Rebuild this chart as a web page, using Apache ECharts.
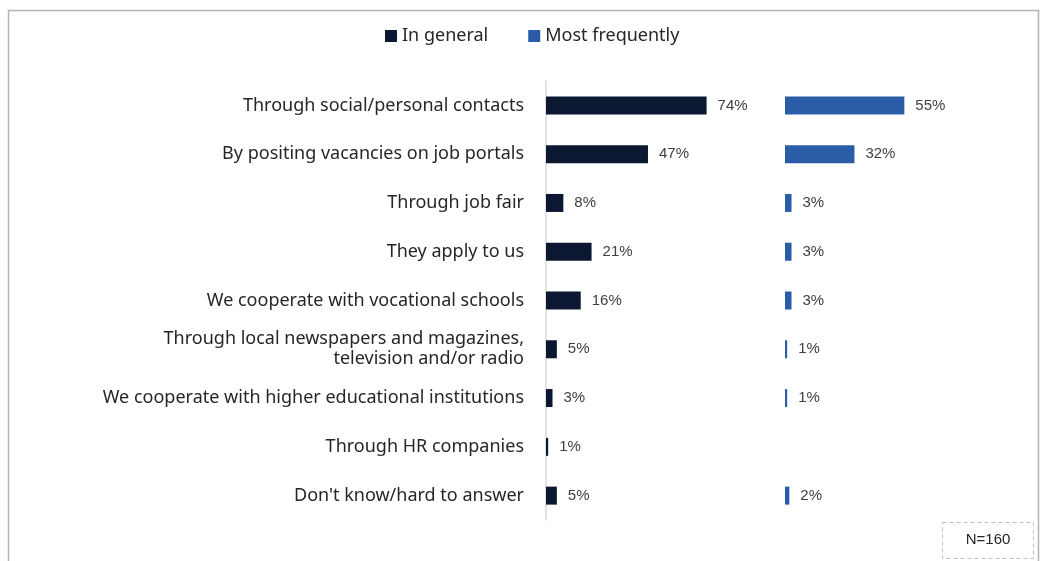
<!DOCTYPE html>
<html>
<head>
<meta charset="utf-8">
<script src="https://cdn.jsdelivr.net/npm/echarts@6/dist/echarts.min.js"></script>
<style>
  html, body { margin: 0; padding: 0; background: #fff; }
  #chart { width: 1043px; height: 561px; }
</style>
</head>
<body>
<div id="chart"></div>
<script>
// Recruitment channels, share of respondents (%)
const categories = [
  'Through social/personal contacts',
  'By positing vacancies on job portals',
  'Through job fair',
  'They apply to us',
  'We cooperate with vocational schools',
  'Through local newspapers and magazines,\ntelevision and/or radio',
  'We cooperate with higher educational institutions',
  'Through HR companies',
  "Don't know/hard to answer"
];
const inGeneral = [74, 47, 8, 21, 16, 5, 3, 1, 5];
const mostFrequently = [55, 32, 3, 3, 3, 1, 1, null, 2];
const seriesNames = ['In general', 'Most frequently'];
const sampleNote = 'N=160';

const DARK = '#0c1831';
const BLUE = '#2a5ca8';
const catFont = 'Noto Sans';
const numFont = 'Liberation Sans';

const chart = echarts.init(document.getElementById('chart'), null, { renderer: 'canvas' });

const valueLabel = {
  show: true,
  position: 'right',
  distance: 11,
  formatter: p => (p.value == null ? '' : p.value + '%'),
  fontFamily: numFont,
  fontSize: 15,
  color: '#404040'
};

chart.setOption({
  animation: false,
  legend: {
    top: 22,
    left: 380,
    itemWidth: 12,
    itemHeight: 12,
    itemGap: 40,
    icon: 'rect',
    textStyle: { fontFamily: catFont, fontSize: 18, color: '#262626' },
    data: seriesNames
  },
  grid: [
    { left: 546, top: 81, width: 217, height: 439 },
    { left: 785, top: 81, width: 217, height: 439 }
  ],
  xAxis: [
    { gridIndex: 0, type: 'value', min: 0, max: 100, show: false },
    { gridIndex: 1, type: 'value', min: 0, max: 100, show: false }
  ],
  yAxis: [
    {
      gridIndex: 0, type: 'category', data: categories, inverse: true,
      axisLine: { show: true, lineStyle: { color: '#d9d9d9', width: 1.5 } },
      axisTick: { show: false },
      axisLabel: {
        margin: 22, fontFamily: catFont, fontSize: 18, color: '#262626',
        align: 'right', lineHeight: 20
      }
    },
    {
      gridIndex: 1, type: 'category', data: categories, inverse: true,
      axisLine: { show: false }, axisTick: { show: false }, axisLabel: { show: false }
    }
  ],
  series: [
    {
      name: seriesNames[0], type: 'bar', xAxisIndex: 0, yAxisIndex: 0,
      data: inGeneral, barWidth: 18, itemStyle: { color: DARK },
      label: valueLabel
    },
    {
      name: seriesNames[1], type: 'bar', xAxisIndex: 1, yAxisIndex: 1,
      data: mostFrequently, barWidth: 18, itemStyle: { color: BLUE },
      label: valueLabel
    }
  ],
  graphic: [
    {
      type: 'rect', silent: true, z: -1,
      shape: { x: 8.5, y: 10.5, width: 1030, height: 600 },
      style: { fill: 'none', stroke: '#b3b3b3', lineWidth: 1.5 }
    },
    {
      type: 'rect', silent: true,
      shape: { x: 942.5, y: 522.5, width: 91, height: 36 },
      style: { fill: '#fff', stroke: '#bfbfbf', lineWidth: 1, lineDash: [4, 3] }
    },
    {
      type: 'text', silent: true, x: 988, y: 540,
      style: {
        text: sampleNote, fontFamily: numFont, fontSize: 15, fill: '#262626',
        align: 'center', verticalAlign: 'middle'
      }
    }
  ]
});
</script>
</body>
</html>
